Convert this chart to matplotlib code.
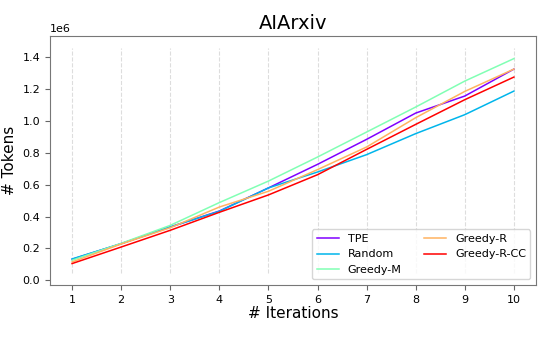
import matplotlib
matplotlib.use("Agg")
import matplotlib.pyplot as plt
import numpy as np

iterations = [1, 2, 3, 4, 5, 6, 7, 8, 9, 10]
tpe       = [0.132, 0.230, 0.335, 0.435, 0.580, 0.728, 0.885, 1.050, 1.157, 1.326]
random_   = [0.134, 0.230, 0.335, 0.433, 0.580, 0.680, 0.789, 0.921, 1.040, 1.188]
greedy_m  = [0.126, 0.232, 0.345, 0.488, 0.623, 0.774, 0.931, 1.088, 1.251, 1.392]
greedy_r  = [0.115, 0.228, 0.330, 0.460, 0.559, 0.695, 0.837, 1.021, 1.186, 1.326]
greedy_rcc= [0.105, 0.209, 0.314, 0.427, 0.536, 0.663, 0.822, 0.979, 1.134, 1.276]
labels = ["TPE", "Random", "Greedy-M", "Greedy-R", "Greedy-R-CC"]
series = [tpe, random_, greedy_m, greedy_r, greedy_rcc]

colors = plt.cm.rainbow(np.linspace(0, 1, 5))

fig = plt.figure(figsize=(5.53, 3.37), dpi=100)
ax = fig.add_axes([0.0904, 0.1543, 0.8788, 0.7389])
for s, lab, c in zip(series, labels, colors):
    ax.plot(iterations, np.array(s) * 1e6, color=c, label=lab, linewidth=1.1)

for xv in iterations:
    ax.axvline(xv, ymin=0.048, ymax=0.952, linestyle='--', color='#dddddd',
               linewidth=0.8, zorder=0)

ax.set_xticks(iterations)
ax.set_xlim(0.55, 10.45)
ax.set_ylim(-0.0295e6, 1.534e6)
ax.set_title("AIArxiv", fontsize=14, pad=5)
ax.set_xlabel("# Iterations", fontsize=11, labelpad=1)
ax.set_ylabel("# Tokens", fontsize=11, labelpad=4)
ax.tick_params(labelsize=8, color='#666666')
ax.yaxis.get_offset_text().set_fontsize(8)
for sp in ax.spines.values():
    sp.set_color('#777777')
ax.legend(loc='lower right', ncol=2, fontsize=8)
fig.savefig("out.png", dpi=100)
